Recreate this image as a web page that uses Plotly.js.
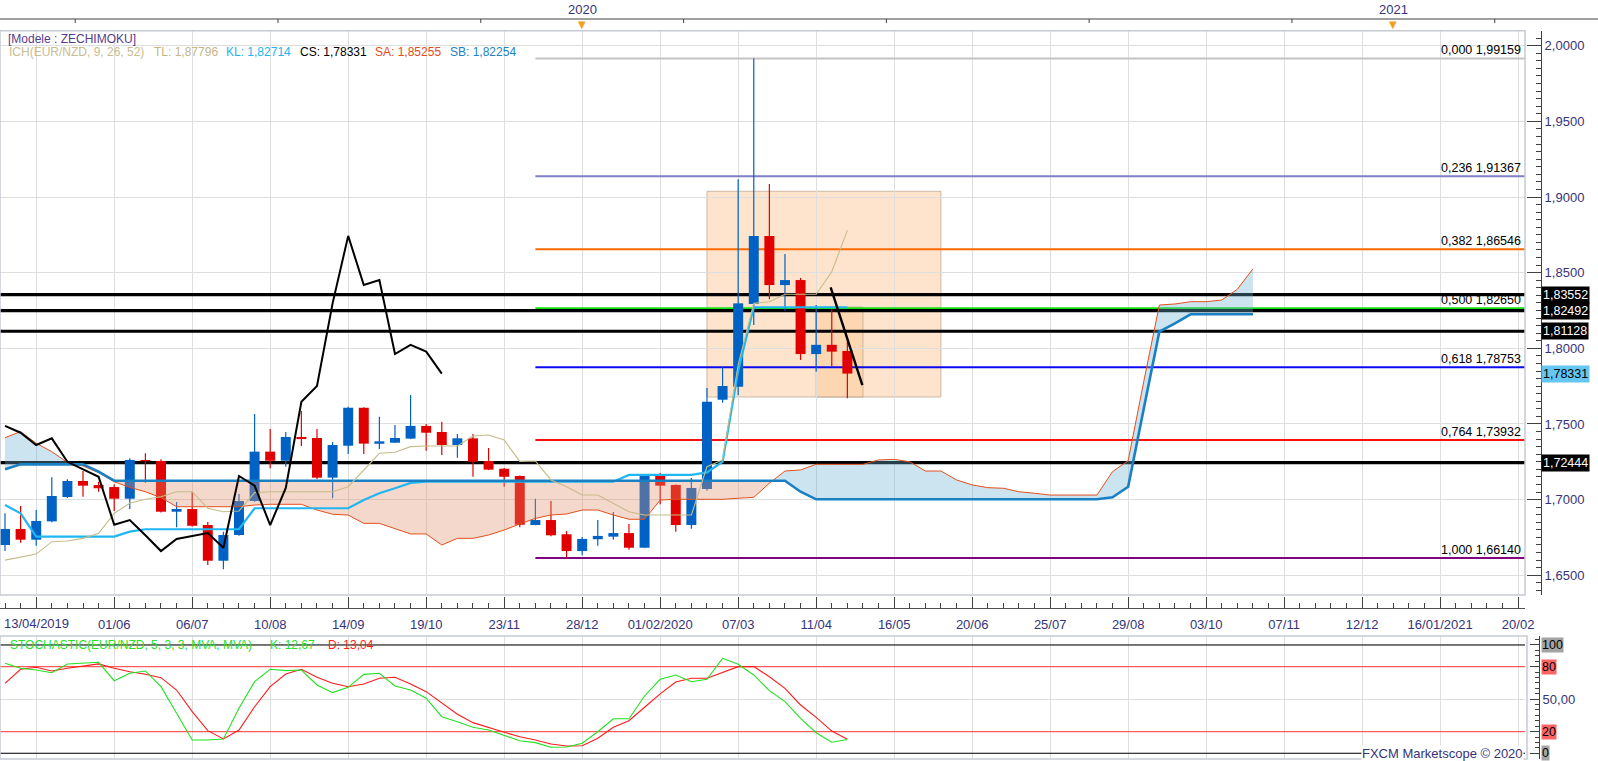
<!DOCTYPE html>
<html><head><meta charset="utf-8">
<script src="https://cdn.plot.ly/plotly-3.0.1.min.js"></script>
<style>html,body{margin:0;padding:0;background:#fff;}#chart{width:1598px;height:761px;}</style>
</head><body><div id="chart"></div>
<script>
// ---------- DATA (weekly EUR/NZD) ----------
const firstWeek = '2019-04-13';
const openP = [1.6700,1.6806,1.6735,1.6856,1.7017,1.7123,1.7096,1.7083,1.7006,1.7262,
 1.7255,1.6920,1.6938,1.6832,1.6596,1.6766,1.6991,1.7317,1.7257,1.7414,
 1.7407,1.7145,1.7356,1.7607,1.7369,1.7376,1.7403,1.7487,1.7447,1.7361,
 1.7405,1.7255,1.7204,1.7156,1.6832,1.6865,1.6771,1.6660,1.6738,1.6755,
 1.6779,1.6682,1.7156,1.7097,1.6832,1.7070,1.7660,1.7746,1.8293,1.8743,
 1.8418,1.8451,1.7962,1.8023,1.7982];
const highP = [1.6909,1.6958,1.6931,1.7147,1.7134,1.7189,1.7118,1.7101,1.7273,1.7306,
 1.7266,1.6984,1.7052,1.6852,1.6788,1.7037,1.7566,1.7467,1.7447,1.7585,
 1.7467,1.7381,1.7614,1.7610,1.7548,1.7493,1.7691,1.7500,1.7515,1.7434,
 1.7434,1.7341,1.7209,1.7160,1.7006,1.6991,1.6792,1.6753,1.6865,1.6918,
 1.6839,1.7160,1.7176,1.7100,1.7143,1.7737,1.7876,1.9117,1.99159,1.9086,
 1.8623,1.8465,1.8286,1.8258,1.8044];
const lowP = [1.6660,1.6715,1.6695,1.6850,1.7010,1.7019,1.7052,1.6925,1.6938,1.7112,
 1.6915,1.6817,1.6822,1.6568,1.6539,1.6761,1.6986,1.7207,1.7217,1.7354,
 1.7134,1.7009,1.7301,1.7301,1.7334,1.7374,1.7400,1.7323,1.7295,1.7277,
 1.7151,1.7195,1.7085,1.6817,1.6830,1.6758,1.6614,1.6632,1.6695,1.6735,
 1.6669,1.6680,1.6969,1.6788,1.6808,1.7060,1.7640,1.7690,1.8154,1.8324,
 1.8248,1.7923,1.7845,1.7883,1.7670];
const closeP = [1.6806,1.6735,1.6859,1.7024,1.7123,1.7092,1.7075,1.7006,1.7262,1.7253,
 1.6920,1.6938,1.6827,1.6596,1.6766,1.6991,1.7317,1.7257,1.7414,1.7400,
 1.7145,1.7361,1.7607,1.7370,1.7385,1.7407,1.7487,1.7442,1.7361,1.7405,
 1.7250,1.7198,1.7151,1.6834,1.6865,1.6764,1.6660,1.6740,1.6760,1.6779,
 1.6682,1.7156,1.7092,1.6832,1.7077,1.7647,1.7751,1.8297,1.8743,1.8418,
 1.8451,1.7962,1.8023,1.7978,1.78331];
const tenkan = [1.6600,1.6620,1.6640,1.6722,1.6726,1.6744,1.6777,1.6909,1.6976,1.7002,
 1.7019,1.7052,1.7052,1.6943,1.6920,1.6925,1.7046,1.7052,1.7052,1.7052,
 1.7052,1.7052,1.7085,1.7196,1.7306,1.7313,1.7350,1.7354,1.7354,1.7354,
 1.7420,1.7427,1.7394,1.7253,1.7255,1.7130,1.7085,1.7030,1.7030,1.6976,
 1.6920,1.6898,1.6898,1.6898,1.6898,1.7217,1.7262,1.7893,1.8297,1.8308,
 1.8357,1.8357,1.8357,1.8506,1.87796];
const kijun = [1.6964,1.6909,1.6755,1.6755,1.6755,1.6755,1.6755,1.6755,1.6788,1.6804,
 1.6804,1.6804,1.6804,1.6804,1.6804,1.6804,1.6943,1.6943,1.6943,1.6943,
 1.6943,1.6943,1.6943,1.6998,1.7042,1.7075,1.7110,1.7118,1.7118,1.7118,
 1.7118,1.7118,1.7118,1.7118,1.7118,1.7118,1.7118,1.7118,1.7118,1.7118,
 1.7163,1.7163,1.7163,1.7163,1.7163,1.7180,1.7250,1.7850,1.82714,1.82714,
 1.82714,1.82714,1.82714,1.82714,1.82714];
const senkouA = [1.7409,1.7449,1.7372,1.7317,1.7245,1.7222,1.7178,1.7118,1.7081,1.7052,
 1.7013,1.6953,1.6953,1.6953,1.6953,1.6953,1.6964,1.6969,1.6969,1.6969,
 1.6931,1.6903,1.6898,1.6843,1.6843,1.6810,1.6773,1.6773,1.6700,1.6744,
 1.6744,1.6766,1.6799,1.6839,1.6876,1.6898,1.6905,1.6931,1.6931,1.6898,
 1.6870,1.6870,1.6997,1.7002,1.7002,1.7002,1.7002,1.7009,1.7015,1.7108,
 1.7189,1.7196,1.7233,1.7233,1.7233,1.7233,1.7262,1.7266,1.7250,1.7189,
 1.7189,1.7130,1.7097,1.7079,1.7075,1.7052,1.7042,1.7030,1.7030,1.7030,
 1.7030,1.7185,1.7257,1.7780,1.8286,1.8293,1.8308,1.8308,1.8319,1.8390,
 1.85255];
const senkouB = [1.7200,1.7233,1.7233,1.7233,1.7233,1.7233,1.7185,1.7125,1.7125,1.7125,
 1.7125,1.7125,1.7125,1.7125,1.7125,1.7125,1.7125,1.7125,1.7125,1.7125,
 1.7125,1.7125,1.7125,1.7125,1.7125,1.7125,1.7125,1.7125,1.7125,1.7125,
 1.7125,1.7125,1.7125,1.7125,1.7125,1.7125,1.7125,1.7125,1.7125,1.7125,
 1.7125,1.7125,1.7125,1.7125,1.7125,1.7125,1.7125,1.7125,1.7125,1.7125,
 1.7125,1.7052,1.7002,1.7002,1.7002,1.7002,1.7002,1.7002,1.7002,1.7002,
 1.7002,1.7002,1.7002,1.7002,1.7002,1.7002,1.7002,1.7002,1.7002,1.7002,
 1.7002,1.7015,1.7085,1.7600,1.8110,1.8165,1.8225,1.8225,1.8225,1.8225,
 1.82254];
const stochK = [83.1,78.5,76.9,74.4,82.5,83.1,84.0,67.0,73.9,76.0,
 61.5,36.9,12.3,12.3,13.2,41.5,66.1,77.6,76.3,76.9,
 63.1,56.0,60.9,72.9,73.9,62.1,58.4,50.8,33.8,29.2,
 24.0,21.5,16.9,11.6,9.8,5.5,5.8,9.2,19.9,31.9,
 31.9,52.9,68.3,72.3,66.1,68.3,87.7,82.2,72.3,57.8,
 47.7,32.3,19.0,10.2,12.67];
const stochD = [64.6,77.6,79.4,76.0,78.5,80.6,82.5,78.5,75.3,72.9,
 69.8,58.4,38.4,20.9,13.2,21.5,43.0,61.5,73.2,77.6,
 70.2,64.6,61.5,64.0,69.3,70.2,64.0,56.9,46.2,36.0,
 28.3,23.6,19.4,15.3,12.3,8.6,6.7,7.0,13.9,24.0,
 30.1,42.5,54.8,65.8,69.3,69.3,74.4,80.0,80.0,70.7,
 60.0,44.6,33.2,20.5,13.04];
const fibRatios = [0, 0.236, 0.382, 0.5, 0.618, 0.764, 1.0];
const fibValues = [1.99159, 1.91367, 1.86546, 1.82650, 1.78753, 1.73932, 1.66140];
const fibStartWeek = 34;
const levelValues = [1.83552, 1.82492, 1.81128, 1.72444];
const zoneStartWeek = [45, 52];
const zoneEndWeek = [60, 55];
const zoneLow = [1.7678, 1.7678];
const zoneHigh = [1.9038, 1.8273];
const trendWeek = [52.93, 54.96];
const trendValue = [1.8403, 1.7757];
const tickWeeks = [2,7,12,17,22,27,32,37,42,47,52,57,62,67,72,77,82,87,92,97];
const tickLabels = ['','01/06','06/07','10/08','14/09','19/10','23/11','28/12','01/02/2020','07/03',
  '11/04','16/05','20/06','25/07','29/08','03/10','07/11','12/12','16/01/2021','20/02'];
const firstLabel = '13/04/2019';
const yearWeeks = [37, 89];
const yearLabels = ['2020', '2021'];
const topTickWeeks = [4.5,17.5,30.5,43.5,56.5,69.5,82.5,95.5];
const stochLevels = [100, 80, 20, 0];
const stochLevelLabels = ['100', '80', '20', '0'];

// ---------- STYLE / GEOMETRY ----------
const W = 7*86400000;
const base = Date.UTC(2019,3,13);
const t = i => base + i*W;
const n = closeP.length;
const candleX = closeP.map((_, i) => t(i));
const cloudN = senkouA.length;
const FW = 1598, FH = 761;
const px = v => v/FW, py = v => 1 - v/FH;
const xRange = [t(-0.3205), t(97.44)];
const yRange = [1.63695, 2.00991];
const fmt = (v, d) => v.toFixed(d).replace('.', ',');
const navy = '#34347a';
const FONT = 'Liberation Sans, Arial, sans-serif';
const UP = '#0062c4', DOWN = '#e00000';

const traces = [];
traces.push({type:'bar', x:candleX, base:closeP.map((c,i)=>Math.min(c,openP[i])),
  y:closeP.map((c,i)=>Math.abs(c-openP[i])), width:0.64*W,
  marker:{color:closeP.map((c,i)=> c>=openP[i]?UP:DOWN), line:{width:0}},
  hoverinfo:'skip', showlegend:false});
function wick(up){
  const x=[], y=[];
  for(let i=0;i<n;i++){ if((closeP[i]>=openP[i])===up){ x.push(t(i),t(i),null); y.push(highP[i],lowP[i],null);} }
  return {type:'scatter', mode:'lines', x, y, line:{color:up?UP:DOWN,width:1.2}, hoverinfo:'skip', showlegend:false};
}
traces.push(wick(true), wick(false));
const cx=[], ca=[], cb=[];
for(let i=0;i<cloudN;i++){
  cx.push(t(i)); ca.push(senkouA[i]); cb.push(senkouB[i]);
  if(i<cloudN-1){
    const d0=senkouA[i]-senkouB[i], d1=senkouA[i+1]-senkouB[i+1];
    if(d0*d1<0){ const f=d0/(d0-d1); const v=senkouA[i]+f*(senkouA[i+1]-senkouA[i]);
      cx.push(t(i+f)); ca.push(v); cb.push(v); }
  }
}
const ctop = ca.map((a,k)=>Math.max(a,cb[k]));
traces.push({type:'scatter',mode:'lines',x:cx,y:cb,line:{width:0},hoverinfo:'skip',showlegend:false});
traces.push({type:'scatter',mode:'lines',x:cx,y:ctop,fill:'tonexty',fillcolor:'rgba(109,175,212,0.35)',line:{width:0},hoverinfo:'skip',showlegend:false});
traces.push({type:'scatter',mode:'lines',x:cx,y:ca,line:{width:0},hoverinfo:'skip',showlegend:false});
traces.push({type:'scatter',mode:'lines',x:cx,y:ctop,fill:'tonexty',fillcolor:'rgba(226,143,109,0.35)',line:{width:0},hoverinfo:'skip',showlegend:false});
const cloudX = senkouA.map((_,i)=>t(i));
traces.push({type:'scatter',mode:'lines',x:cloudX,y:senkouA,line:{color:'#e2501c',width:1},hoverinfo:'skip',showlegend:false});
traces.push({type:'scatter',mode:'lines',x:candleX,y:kijun,line:{color:'#20b6f2',width:2.2},hoverinfo:'skip',showlegend:false});
traces.push({type:'scatter',mode:'lines',x:cloudX,y:senkouB,line:{color:'#1a80c4',width:2.6},hoverinfo:'skip',showlegend:false});
traces.push({type:'scatter',mode:'lines',x:candleX,y:tenkan,line:{color:'#c4bc88',width:1.1},hoverinfo:'skip',showlegend:false});
const chikX=[], chikY=[];
for(let i=0;i+26<n;i++){ chikX.push(t(i)); chikY.push(closeP[i+26]); }
traces.push({type:'scatter',mode:'lines',x:chikX,y:chikY,line:{color:'#000',width:2},hoverinfo:'skip',showlegend:false});
traces.push({type:'scatter',mode:'lines',x:trendWeek.map(t),y:trendValue,line:{color:'#000',width:2.4},hoverinfo:'skip',showlegend:false});
// stochastic
const stochLevelColors = ['#000','#ff5a5a','#ff5a5a','#000'];
stochLevels.forEach((v,k)=>traces.push({type:'scatter',mode:'lines',x:xRange,y:[v,v],xaxis:'x2',yaxis:'y2',
  line:{color:stochLevelColors[k],width:1.2},hoverinfo:'skip',showlegend:false,cliponaxis:true}));
traces.push({type:'scatter',mode:'lines',x:candleX,y:stochD,xaxis:'x2',yaxis:'y2',line:{color:'#ff1a1a',width:1.1},hoverinfo:'skip',showlegend:false});
traces.push({type:'scatter',mode:'lines',x:candleX,y:stochK,xaxis:'x2',yaxis:'y2',line:{color:'#22e022',width:1.1},hoverinfo:'skip',showlegend:false});

// shapes
const shapes = [];
const plotR = px(1525);
const mainDom = [py(595), py(30.7)];
const stDom = [py(759), py(636)];
for(let k=0;k<zoneStartWeek.length;k++){
  shapes.push({type:'rect',xref:'x',yref:'y',x0:t(zoneStartWeek[k]),x1:t(zoneEndWeek[k]),y0:zoneLow[k],y1:zoneHigh[k],
    fillcolor:'rgba(252,200,150,0.49)',line:{color:'rgba(170,150,130,0.6)',width:1},layer:'below'});
}
const fibColors = ['#c4c4c4','#7f7fc4','#ff6a00','#10e010','#0a0af0','#ff1010','#800080'];
fibValues.forEach((v,k)=>shapes.push({type:'line',xref:'x',yref:'y',x0:t(fibStartWeek),x1:t(120),y0:v,y1:v,
  line:{color:fibColors[k],width:2},layer:'between'}));
levelValues.forEach(v=>shapes.push({type:'line',xref:'x',yref:'y',x0:xRange[0],x1:xRange[1],y0:v,y1:v,line:{color:'#000',width:3.2},layer:'between'}));
shapes.push({type:'rect',xref:'paper',yref:'paper',x0:0,x1:plotR,y0:mainDom[0],y1:mainDom[1],line:{color:'#c6cad2',width:1.5},layer:'above'});
shapes.push({type:'rect',xref:'paper',yref:'paper',x0:0,x1:px(1527),y0:stDom[0],y1:stDom[1],line:{color:'#c6cad2',width:1.5},layer:'above'});

// annotations
const ann = [];
const A = (o)=>ann.push(Object.assign({showarrow:false,font:{family:FONT,size:12,color:navy}},o));
A({text:'[Modele : ZECHIMOKU]',xref:'paper',yref:'paper',x:px(6),y:py(39),xanchor:'left',yanchor:'middle',font:{family:FONT,size:12,color:'#573c8e'}});
const last = n-1;
const legendSeg = [
  ['ICH(EUR/NZD, 9, 26, 52)', '#c8bc90', 6.5],
  ['TL: '+fmt(tenkan[last],5), '#c2b686', 152],
  ['KL: '+fmt(kijun[last],5), '#22b4f0', 224],
  ['CS: '+fmt(closeP[last],5), '#000000', 298],
  ['SA: '+fmt(senkouA[cloudN-1],5), '#e84a1a', 373],
  ['SB: '+fmt(senkouB[cloudN-1],5), '#2082c8', 448]];
legendSeg.forEach(s=>A({text:s[0],xref:'paper',yref:'paper',x:px(s[2]),y:py(52.5),xanchor:'left',yanchor:'middle',font:{family:FONT,size:12,color:s[1]}}));
fibValues.forEach((v,k)=>A({text:fmt(fibRatios[k],3)+' '+fmt(v,5),xref:'paper',yref:'y',x:px(1523),y:v,xanchor:'right',yanchor:'bottom',yshift:-1,font:{family:FONT,size:12.5,color:'#000'}}));
levelValues.forEach(v=>A({text:fmt(v,5),xref:'paper',yref:'y',x:px(1541),y:v,xanchor:'left',yanchor:'middle',bgcolor:'#000',borderpad:1,font:{family:FONT,size:12.5,color:'#fff'}}));
A({text:fmt(closeP[last],5),xref:'paper',yref:'y',x:px(1541),y:closeP[last],xanchor:'left',yanchor:'middle',bgcolor:'#66c6f2',borderpad:1,font:{family:FONT,size:12.5,color:'#000'}});
A({text:firstLabel,xref:'paper',yref:'paper',x:px(1.5),y:py(623),xanchor:'left',yanchor:'middle',font:{family:FONT,size:13,color:navy}});
yearWeeks.forEach((w,k)=>{
  A({text:yearLabels[k],xref:'x',yref:'paper',x:t(w),y:py(9),xanchor:'center',yanchor:'middle',font:{family:FONT,size:13,color:navy}});
  A({text:'▼',xref:'x',yref:'paper',x:t(w),y:py(24),xanchor:'center',yanchor:'middle',font:{family:'DejaVu Sans',size:10,color:'#f3a01e'}});
});
A({text:'STOCHASTIC(EUR/NZD, 5, 3, 3, MVA, MVA)',xref:'paper',yref:'paper',x:px(8),y:py(645),xanchor:'left',yanchor:'middle',font:{family:FONT,size:12,color:'#28e028'}});
A({text:'K: '+fmt(stochK[last],2),xref:'paper',yref:'paper',x:px(268),y:py(645),xanchor:'left',yanchor:'middle',font:{family:FONT,size:12,color:'#28e028'}});
A({text:'D: '+fmt(stochD[last],2),xref:'paper',yref:'paper',x:px(326),y:py(645),xanchor:'left',yanchor:'middle',font:{family:FONT,size:12,color:'#ff2020'}});
const stBg = ['#a4a4a4','#ff6464','#ff6464','#a4a4a4'];
stochLevels.forEach((v,k)=>A({text:stochLevelLabels[k],xref:'paper',yref:'y2',x:px(1541),y:v,xanchor:'left',yanchor:'middle',bgcolor:stBg[k],borderpad:0,font:{family:FONT,size:12.5,color:'#000'}}));
A({text:'FXCM Marketscope © 2020',xref:'paper',yref:'paper',x:px(1524),y:py(753),xanchor:'right',yanchor:'middle',bgcolor:'#fff',borderpad:0,font:{family:FONT,size:13,color:navy}});

const grid = '#dedede';
const layout = {
  width:FW, height:FH, margin:{l:0,r:0,t:0,b:0}, paper_bgcolor:'#fff', plot_bgcolor:'#fff',
  separators:',.', showlegend:false, barmode:'overlay', font:{family:FONT,size:13,color:navy},
  xaxis:{type:'date',domain:[0,plotR],range:xRange,anchor:'free',position:py(608),
    tickmode:'array',tickvals:tickWeeks.map(t),ticktext:tickLabels,ticks:'inside',ticklen:11,tickcolor:'#404040',
    ticklabelstandoff:4,showline:true,linecolor:'#505050',linewidth:1,showgrid:true,gridcolor:grid,zeroline:false,
    tickfont:{family:FONT,size:13,color:navy},
    minor:{dtick:W,tick0:firstWeek,ticks:'inside',ticklen:5,tickcolor:'#404040',showgrid:false}},
  yaxis:{domain:mainDom,range:yRange,side:'right',anchor:'free',position:px(1541),
    dtick:0.05,tick0:2,tickformat:'.4f',ticks:'inside',ticklen:14,tickcolor:'#404040',showline:true,linecolor:'#404040',
    showgrid:true,gridcolor:grid,zeroline:false,tickfont:{family:FONT,size:13,color:navy},
    minor:{dtick:0.005,ticks:'inside',ticklen:5,tickcolor:'#404040',showgrid:false}},
  xaxis2:{type:'date',domain:[0,plotR],range:xRange,anchor:'y2',tickmode:'array',tickvals:tickWeeks.map(t),
    showticklabels:false,ticks:'',showgrid:true,gridcolor:grid,zeroline:false,showline:false},
  yaxis2:{domain:stDom,range:[-5.3,108.3],side:'right',anchor:'free',position:px(1539),
    tickmode:'array',tickvals:[0,20,50,80,100],ticktext:['','','50,00','',''],ticks:'inside',ticklen:9,tickcolor:'#404040',
    showline:true,linecolor:'#404040',showgrid:true,gridcolor:grid,zeroline:false,tickfont:{family:FONT,size:13,color:navy},
    minor:{dtick:5,ticks:'inside',ticklen:4,tickcolor:'#404040',showgrid:false}},
  shapes, annotations:ann
};
// top time strip: line with small ticks (drawn in paper space from the data weeks)
const topY = py(19);
shapes.push({type:'line',xref:'paper',yref:'paper',x0:0,x1:px(1598),y0:topY,y1:topY,line:{color:'#404040',width:1},layer:'above'});
topTickWeeks.forEach(w=>shapes.push({type:'line',xref:'x',yref:'paper',x0:t(w),x1:t(w),y0:topY,y1:py(23),line:{color:'#404040',width:1},layer:'above'}));
Plotly.newPlot('chart', traces, layout, {staticPlot:true, displayModeBar:false});
</script></body></html>
